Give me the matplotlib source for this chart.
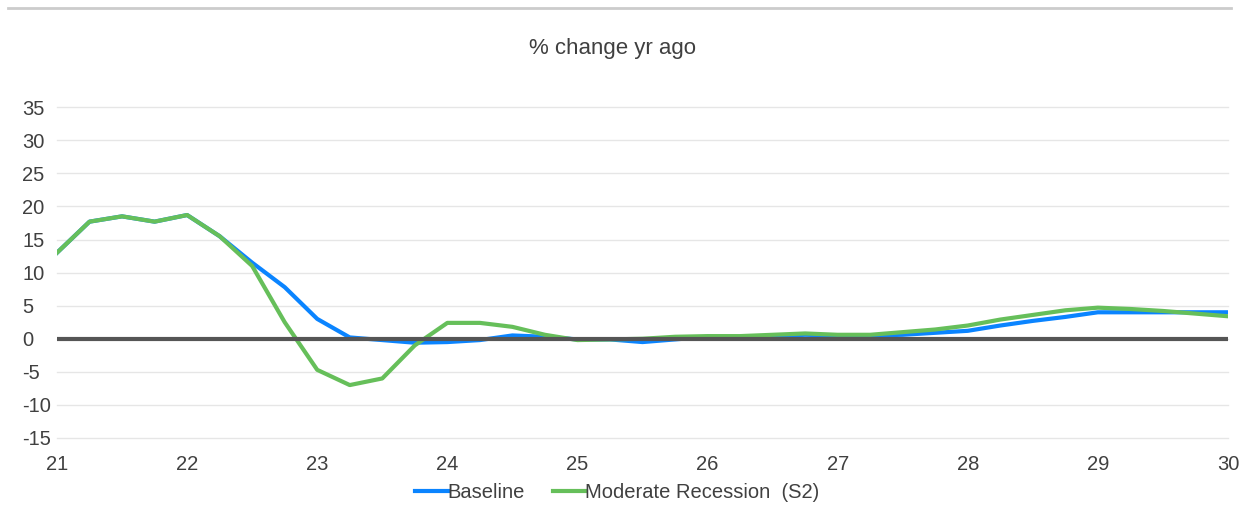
import matplotlib
matplotlib.use("Agg")
import matplotlib.pyplot as plt
from matplotlib.lines import Line2D
import numpy as np

plt.rcParams['font.family'] = ['Liberation Sans', 'DejaVu Sans']
plt.rcParams['axes.unicode_minus'] = False

# quarterly points, 21.00 .. 30.00
quarters = np.arange(21, 30.01, 0.25)
baseline = [13.0, 17.7, 18.5, 17.7, 18.7, 15.5, 11.5, 7.8, 3.0, 0.2,
            -0.2, -0.6, -0.5, -0.2, 0.5, 0.3, -0.1, -0.1, -0.5, -0.1,
            0.3, 0.1, 0.4, 0.6, 0.5, 0.5, 0.6, 0.9, 1.2, 2.0,
            2.7, 3.3, 4.0, 4.0, 4.0, 4.0, 4.0]
recession = [13.0, 17.7, 18.5, 17.7, 18.7, 15.5, 11.0, 2.5, -4.7, -7.0,
             -6.0, -1.0, 2.4, 2.4, 1.8, 0.6, -0.2, -0.1, 0.0, 0.3,
             0.4, 0.4, 0.6, 0.8, 0.6, 0.6, 1.0, 1.4, 2.0, 2.9,
             3.6, 4.3, 4.7, 4.5, 4.2, 3.8, 3.4]
xticks = list(range(21, 31))
yticks = list(range(-15, 36, 5))

text_col = '#404040'

fig = plt.figure(figsize=(12.5, 5.08), dpi=100)
ax = fig.add_axes([0.0456, 0.1378, 0.9368, 0.6512])

ax.plot(quarters, baseline, color='#0A84FF', linewidth=3, label='Baseline', zorder=3)
ax.plot(quarters, recession, color='#66BF5A', linewidth=3,
        label='Moderate Recession  (S2)', zorder=4)
ax.axhline(0, color='#555555', linewidth=3, zorder=5)

ax.set_xlim(21, 30)
ax.set_ylim(-15, 35)
ax.set_xticks(xticks)
ax.set_yticks(yticks)
ax.grid(axis='y', color='#E6E6E6', linewidth=1)
for gl in ax.get_ygridlines():
    gl.set_clip_on(False)
ax.set_axisbelow(True)
for s in ax.spines.values():
    s.set_visible(False)
ax.tick_params(length=0, labelsize=14.5, colors=text_col)
ax.tick_params(axis='x', pad=12)
ax.tick_params(axis='y', pad=25)
for lbl in ax.get_yticklabels():
    lbl.set_horizontalalignment('left')

fig.text(0.49, 0.905, '% change yr ago', ha='center', va='center',
         fontsize=16, color=text_col)

# top border of the chart box
fig.add_artist(Line2D([0.006, 0.985], [0.984, 0.984], color='#CCCCCC',
                      linewidth=2, transform=fig.transFigure))

leg = fig.legend(loc='center', bbox_to_anchor=(0.494, 0.031), ncol=2,
                 frameon=False, fontsize=14.5, handlelength=1.6,
                 handletextpad=0.0, columnspacing=1.4)
for t in leg.get_texts():
    t.set_color(text_col)

fig.savefig('out.png', dpi=100)
